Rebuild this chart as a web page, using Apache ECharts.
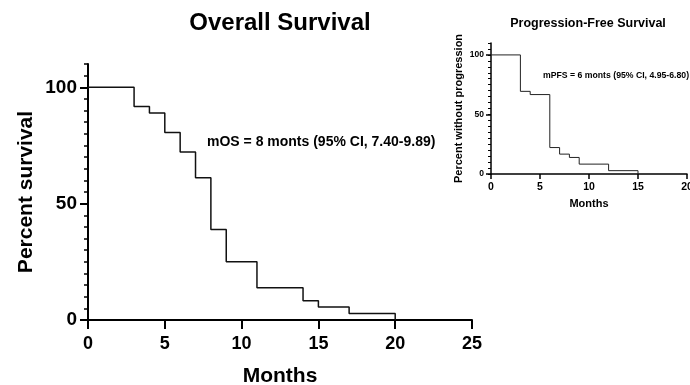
<!DOCTYPE html>
<html>
<head>
<meta charset="utf-8">
<script src="https://cdn.jsdelivr.net/npm/echarts@6/dist/echarts.min.js"></script>
<style>
  html, body { margin: 0; padding: 0; background: #fff; }
  #chart { width: 690px; height: 385px; }
</style>
</head>
<body>
<div id="chart"></div>
<script>
// Overall survival (Kaplan-Meier steps)
const osMonths = [0, 3, 4, 5, 6, 7, 8, 9, 11, 14, 15, 17, 20];
const osSurvival = [100, 91.7, 88.9, 80.6, 72.2, 61.1, 38.9, 25, 13.9, 8.3, 5.6, 2.8, 0];

// Progression-free survival
const pfsMonths = [0, 3, 4, 6, 7, 8, 9, 12, 15];
const pfsSurvival = [100, 69.4, 66.7, 22.2, 16.7, 13.9, 8.3, 2.8, 0];

const yMajorTicks = [0, 50, 100];
const osNote = "mOS = 8 monts (95% CI, 7.40-9.89)";
const pfsNote = "mPFS = 6 monts (95% CI, 4.95-6.80)";

const FONT = "Liberation Sans";
const chart = echarts.init(document.getElementById("chart"));

function pairs(xs, ys) {
  return xs.map((x, i) => [x, ys[i]]);
}

// two y axes per grid: one for minor ticks + line, one for major ticks + labels
function yAxes(gridIndex, big) {
  return [
    {
      gridIndex, type: "value", min: 0, max: 110, interval: 5, position: "left",
      axisLine: { show: true, lineStyle: { color: "#000", width: big ? 2 : 1.5 } },
      axisTick: { show: true, length: big ? 4 : 3, lineStyle: { color: "#000", width: big ? 1.5 : 1 } },
      axisLabel: { show: false },
      splitLine: { show: false },
      name: big ? "Percent survival" : "Percent without progression",
      nameLocation: "middle",
      nameGap: big ? 51 : 27,
      nameTextStyle: { fontFamily: FONT, fontWeight: "bold", fontSize: big ? 21 : 11, color: "#000" }
    },
    {
      gridIndex, type: "value", min: 0, max: 110, position: "left",
      axisLine: { show: false },
      axisTick: { show: true, customValues: yMajorTicks, length: big ? 8 : 5, lineStyle: { color: "#000", width: big ? 2 : 1.5 } },
      axisLabel: {
        customValues: yMajorTicks, margin: big ? 11 : 7,
        fontFamily: FONT, fontWeight: "bold", fontSize: big ? 19 : 8.5, color: "#000"
      },
      splitLine: { show: false }
    }
  ];
}

function xAxis(gridIndex, big, max) {
  return {
    gridIndex, type: "value", min: 0, max, interval: 5,
    axisLine: { show: true, onZero: false, lineStyle: { color: "#000", width: big ? 2 : 1.5 } },
    axisTick: { show: true, length: big ? 9 : 5, lineStyle: { color: "#000", width: big ? 2 : 1.5 } },
    axisLabel: { margin: big ? 15 : 8, fontFamily: FONT, fontWeight: "bold", fontSize: big ? 18 : 10.5, color: "#000" },
    splitLine: { show: false },
    name: "Months",
    nameLocation: "middle",
    nameGap: big ? 46 : 24,
    nameTextStyle: { fontFamily: FONT, fontWeight: "bold", fontSize: big ? 21 : 11, color: "#000" }
  };
}

chart.setOption({
  backgroundColor: "#fff",
  animation: false,
  title: [
    {
      text: "Overall Survival", left: 275, top: 6, textAlign: "center",
      textStyle: { fontFamily: FONT, fontWeight: "bold", fontSize: 24, color: "#000" }
    },
    {
      text: "Progression-Free Survival", left: 583, top: 12, textAlign: "center",
      textStyle: { fontFamily: FONT, fontWeight: "bold", fontSize: 12.5, color: "#000" }
    }
  ],
  grid: [
    { left: 88, right: 218, top: 64, bottom: 65, outerBoundsMode: "none" },
    { left: 491, right: 3, top: 43, bottom: 211, outerBoundsMode: "none" }
  ],
  xAxis: [xAxis(0, true, 25), xAxis(1, false, 20)],
  yAxis: yAxes(0, true).concat(yAxes(1, false)),
  graphic: [
    {
      type: "text", left: 207, top: 135,
      style: { text: osNote, font: "bold 14px '" + FONT + "'", fill: "#000" }
    },
    {
      type: "text", left: 543, top: 71,
      style: { text: pfsNote, font: "bold 8.7px '" + FONT + "'", fill: "#000" }
    }
  ],
  series: [
    {
      type: "line", step: "end", xAxisIndex: 0, yAxisIndex: 0,
      data: pairs(osMonths, osSurvival),
      showSymbol: false,
      lineStyle: { color: "#111", width: 1.5 }
    },
    {
      type: "line", step: "end", xAxisIndex: 1, yAxisIndex: 2,
      data: pairs(pfsMonths, pfsSurvival),
      showSymbol: false,
      lineStyle: { color: "#222", width: 1 }
    }
  ]
});
</script>
</body>
</html>
